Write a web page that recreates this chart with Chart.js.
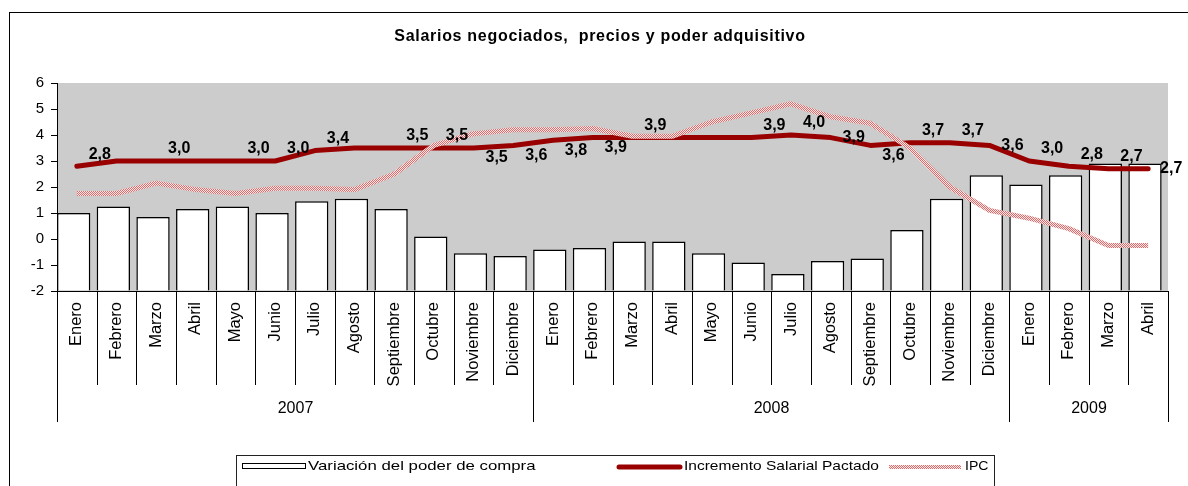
<!DOCTYPE html>
<html>
<head>
<meta charset="utf-8">
<script src="https://cdn.jsdelivr.net/npm/chart.js@4.4.1/dist/chart.umd.min.js"></script>
<style>
  html, body { margin: 0; padding: 0; background: #fff; }
  #wrap { width: 1188px; height: 486px; }
</style>
</head>
<body>
<div id="wrap"><canvas id="salariosChart"></canvas></div>
<script>
// Categorias del eje X
var meses = ['Enero', 'Febrero', 'Marzo', 'Abril', 'Mayo', 'Junio', 'Julio', 'Agosto', 'Septiembre', 'Octubre', 'Noviembre', 'Diciembre',
             'Enero', 'Febrero', 'Marzo', 'Abril', 'Mayo', 'Junio', 'Julio', 'Agosto', 'Septiembre', 'Octubre', 'Noviembre', 'Diciembre',
             'Enero', 'Febrero', 'Marzo', 'Abril'];
var anios = ['2007', '2008', '2009'];
var mesesPorAnio = [12, 12, 4];

// Series
var poderCompra = [1.0, 1.25, 0.85, 1.15, 1.25, 1.0, 1.45, 1.55, 1.15, 0.1, -0.55, -0.65,
                   -0.4, -0.35, -0.1, -0.1, -0.55, -0.9, -1.35, -0.85, -0.75, 0.35, 1.55, 2.45,
                   2.1, 2.45, 2.9, 2.9];
var salarioPactado = [2.8, 3.0, 3.0, 3.0, 3.0, 3.0, 3.4, 3.5, 3.5, 3.5, 3.5, 3.6,
                      3.8, 3.9, 3.9, 3.9, 3.9, 3.9, 4.0, 3.9, 3.6, 3.7, 3.7, 3.6,
                      3.0, 2.8, 2.7, 2.7];
var ipc = [1.75, 1.75, 2.15, 1.9, 1.75, 1.95, 1.95, 1.9, 2.5, 3.6, 4.05, 4.2,
           4.2, 4.25, 3.95, 3.95, 4.5, 4.85, 5.2, 4.7, 4.45, 3.5, 2.0, 1.1,
           0.8, 0.4, -0.25, -0.25];

// Donde va la etiqueta de cada punto salarial: 'a' encima, 'b' debajo, 'r' al lado, '' ninguna
var posEtiqueta = ['a', '', 'a', '', 'a', 'a', 'a', '', 'a', 'a', 'b', 'b',
                   'b', 'b', 'a', '', '', 'a', 'a', 'r', 'b', 'a', 'a', 'r',
                   'a', 'a', 'a', 'r'];

var fuente = '"Liberation Sans", Arial, sans-serif';
Chart.defaults.font.family = fuente;
Chart.defaults.color = '#000';

// Trama punteada para la linea del IPC
var trama = document.createElement('canvas');
trama.width = 2; trama.height = 2;
var tg = trama.getContext('2d');
tg.fillStyle = '#fdeaea'; tg.fillRect(0, 0, 2, 2);
tg.fillStyle = '#e06a6a'; tg.fillRect(0, 0, 1, 1); tg.fillRect(1, 1, 1, 1);
var tramaIpc = tg.createPattern(trama, 'repeat');

var rojo = '#990000';

var decoracion = {
  id: 'decoracion',
  beforeDraw: function(chart) {
    var ctx = chart.ctx, a = chart.chartArea;
    ctx.save();
    ctx.fillStyle = '#fff';
    ctx.fillRect(0, 0, chart.width, chart.height);
    ctx.fillStyle = '#cccccc';
    ctx.fillRect(a.left, a.top, a.right - a.left, a.bottom - a.top);
    ctx.restore();
  },
  // las barras van pegadas al borde izquierdo de cada mes, como en el original
  beforeDatasetDraw: function(chart, args) {
    if (args.index !== 0) return;
    var x = chart.scales.x;
    var ancho = x.getPixelForValue(1) - x.getPixelForValue(0);
    chart.ctx.save();
    chart.ctx.translate(-ancho * 0.08, 0);
  },
  afterDatasetDraw: function(chart, args) {
    if (args.index === 0) chart.ctx.restore();
  },
  afterDatasetsDraw: function(chart) {
    var ctx = chart.ctx;
    var meta = chart.getDatasetMeta(1);
    ctx.save();
    ctx.font = 'bold 16px ' + fuente;
    ctx.fillStyle = '#000';
    ctx.textAlign = 'center';
    ctx.textBaseline = 'middle';
    meta.data.forEach(function(p, i) {
      var pos = posEtiqueta[i];
      if (!pos) return;
      var dy = pos === 'a' ? -12 : (pos === 'b' ? 10 : 0);
      ctx.fillText(salarioPactado[i].toFixed(1).replace('.', ','), p.x + 23, p.y + dy);
    });
    ctx.restore();
  },
  afterDraw: function(chart) {
    var ctx = chart.ctx, a = chart.chartArea, x = chart.scales.x;
    var medio = (x.getPixelForValue(1) - x.getPixelForValue(0)) / 2;
    function borde(i) {
      return i < meses.length ? x.getPixelForValue(i) - medio : x.getPixelForValue(meses.length - 1) + medio;
    }
    ctx.save();
    ctx.strokeStyle = '#000';
    ctx.lineWidth = 1;
    // separadores de meses
    for (var i = 0; i <= meses.length; i++) {
      var px = Math.round(borde(i)) + 0.5;
      ctx.beginPath(); ctx.moveTo(px, a.bottom); ctx.lineTo(px, a.bottom + 94); ctx.stroke();
    }
    // separadores y etiquetas de años
    ctx.font = '16px ' + fuente;
    ctx.fillStyle = '#000';
    ctx.textAlign = 'center';
    ctx.textBaseline = 'middle';
    var inicio = 0;
    for (var j = 0; j < anios.length; j++) {
      var fin = inicio + mesesPorAnio[j];
      var x0 = Math.round(borde(inicio)) + 0.5, x1 = Math.round(borde(fin)) + 0.5;
      ctx.beginPath(); ctx.moveTo(x0, a.bottom); ctx.lineTo(x0, a.bottom + 131); ctx.stroke();
      ctx.beginPath(); ctx.moveTo(x1, a.bottom); ctx.lineTo(x1, a.bottom + 131); ctx.stroke();
      ctx.fillText(anios[j], (x0 + x1) / 2, a.bottom + 118);
      inicio = fin;
    }
    // marco exterior
    ctx.strokeRect(9.5, 12.5, chart.width + 20, chart.height + 20);
    // titulo
    ctx.font = 'bold 16px ' + fuente;
    ctx.letterSpacing = '0.7px';
    ctx.fillText('Salarios negociados,  precios y poder adquisitivo', 600, 37);
    ctx.letterSpacing = '0px';
    // leyenda
    ctx.strokeStyle = '#222';
    ctx.strokeRect(236.5, 455.5, 758, 60);
    ctx.fillStyle = '#fff';
    ctx.strokeStyle = '#000';
    ctx.fillRect(242, 463, 63, 5);
    ctx.strokeRect(242.5, 463.5, 63, 5);
    ctx.lineCap = 'round';
    ctx.lineWidth = 5;
    ctx.strokeStyle = rojo;
    ctx.beginPath(); ctx.moveTo(619, 467); ctx.lineTo(680, 467); ctx.stroke();
    ctx.lineCap = 'butt';
    ctx.lineWidth = 4;
    ctx.strokeStyle = tramaIpc;
    ctx.beginPath(); ctx.moveTo(889, 467); ctx.lineTo(961, 467); ctx.stroke();
    ctx.fillStyle = '#000';
    ctx.textAlign = 'left';
    ctx.textBaseline = 'alphabetic';
    ctx.font = '16px ' + fuente;
    var textos = [['Variación del poder de compra', 308, 1.05], ['Incremento Salarial Pactado', 684, 0.97], ['IPC', 965, 0.88]];
    textos.forEach(function(t) {
      ctx.save();
      ctx.translate(t[1], 469.5);
      ctx.scale(t[2], 0.76);
      ctx.fillText(t[0], 0, 0);
      ctx.restore();
    });
    ctx.restore();
  }
};

var ctx = document.getElementById('salariosChart').getContext('2d');

var myChart = new Chart(ctx, {
  type: 'bar',
  data: {
    labels: meses,
    datasets: [{
      type: 'bar',
      label: 'Variación del poder de compra',
      data: poderCompra,
      base: -2,
      backgroundColor: '#ffffff',
      borderColor: '#000000',
      borderWidth: 1.5,
      barPercentage: 0.84,
      categoryPercentage: 1,
      order: 3
    }, {
      type: 'line',
      label: 'Incremento Salarial Pactado',
      data: salarioPactado,
      borderColor: rojo,
      borderWidth: 5,
      borderJoinStyle: 'round',
      borderCapStyle: 'round',
      pointRadius: 0,
      tension: 0,
      order: 2
    }, {
      type: 'line',
      label: 'IPC',
      data: ipc,
      borderColor: tramaIpc,
      borderWidth: 5,
      borderJoinStyle: 'round',
      pointRadius: 0,
      tension: 0,
      order: 1
    }]
  },
  options: {
    responsive: true,
    maintainAspectRatio: false,
    animation: false,
    layout: { padding: { top: 83, right: 20, bottom: 0, left: 0 } },
    plugins: {
      legend: { display: false },
      title: { display: false },
      tooltip: { enabled: false }
    },
    scales: {
      x: {
        offset: true,
        grid: { display: true, drawOnChartArea: false, drawTicks: false },
        border: { display: true, color: '#000', width: 1 },
        ticks: { autoSkip: false, minRotation: 90, maxRotation: 90, padding: 11, font: { size: 16.5 }, color: '#000' },
        afterFit: function(s) { s.height = 195; }
      },
      y: {
        min: -2,
        max: 6,
        ticks: { stepSize: 1, padding: 7, font: { size: 15 }, color: '#000' },
        grid: { drawOnChartArea: false, drawTicks: true, tickLength: 6, color: '#000' },
        border: { display: true, color: '#000', width: 1 },
        afterFit: function(s) { s.width = 57; }
      }
    }
  },
  plugins: [decoracion]
});
</script>
</body>
</html>
